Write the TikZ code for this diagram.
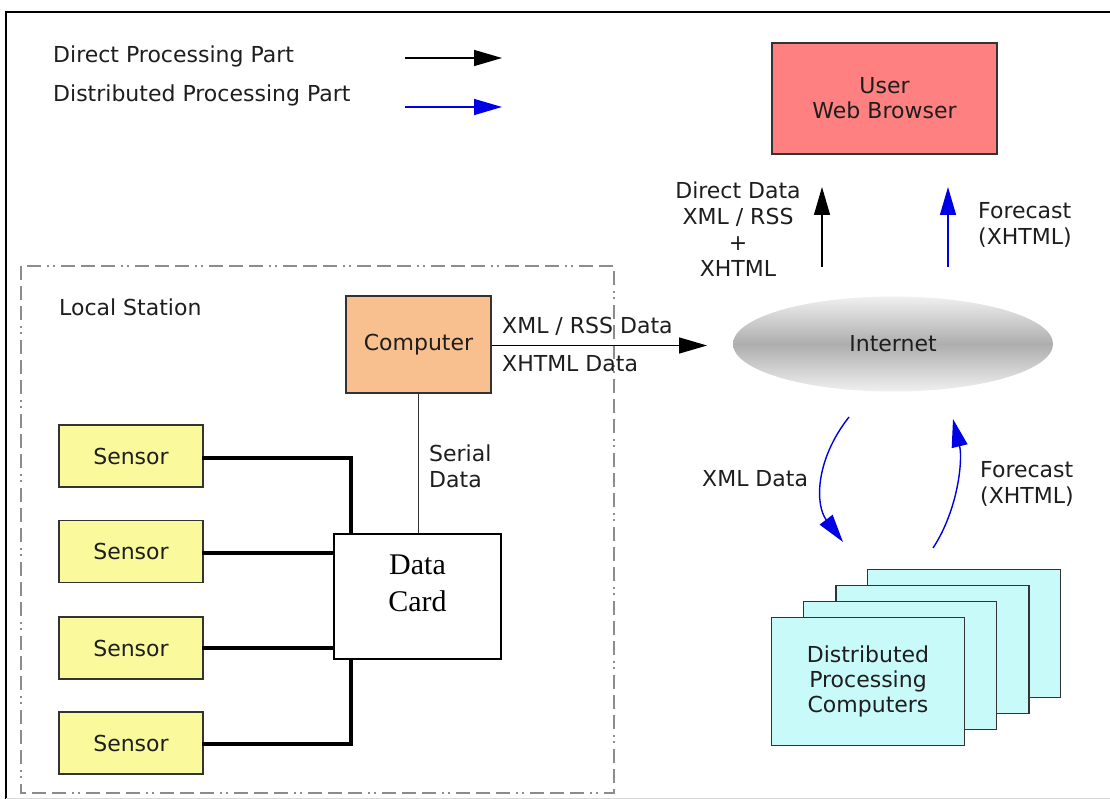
\documentclass[tikz,border=0pt]{standalone}
\usepackage{fontspec}
\setmainfont{DejaVu Sans}
\newfontfamily\cardfont{Liberation Serif}
\usetikzlibrary{arrows.meta,shapes.geometric,calc}
\definecolor{txt}{HTML}{1E1E1E}
\definecolor{usrfill}{HTML}{FF8080}
\definecolor{compfill}{HTML}{F9C08F}
\definecolor{sensfill}{HTML}{FAFA9C}
\definecolor{distfill}{HTML}{C8FAFA}
\definecolor{boxline}{HTML}{333333}
\definecolor{arrblue}{HTML}{0000E6}
\definecolor{dashgray}{HTML}{8C8C8C}
\tikzset{
  lbl/.style={font=\fontsize{22}{26}\selectfont, text=txt, inner sep=0pt},
  box/.style={draw=boxline, line width=1.6pt, inner sep=0pt, font=\fontsize{22}{25}\selectfont, text=txt, align=center},
  sensorbox/.style={box, fill=sensfill, minimum width=144pt, minimum height=62pt},
  distbox/.style={box, fill=distfill, minimum width=193pt, minimum height=128pt},
  arr/.style={line width=1.4pt, -{Triangle[length=28pt,width=16pt]}},
  barr/.style={arr, draw=arrblue},
  wire/.style={line width=3.2pt, line cap=rect},
}
\begin{document}
\begin{tikzpicture}[x=1pt,y=-1pt]
\useasboundingbox (0,0) rectangle (1110,799);
\fill[white] (0,0) rectangle (1110,799);
% outer frame
\draw[line width=2pt] (6,799) -- (6,12) -- (1110,12);
\draw[line width=1pt, black!15] (6,798) -- (1110,798);

% legend
\node[lbl, anchor=base west] (leg1) at (53,63) {Direct Processing Part};
\node[lbl, anchor=base west] (leg2) at (53,102) {Distributed Processing Part};
\coordinate (l1a) at (405,58); \coordinate (l1b) at (502,58);
\coordinate (l2a) at (405,107); \coordinate (l2b) at (502,107);
\draw[arr] (l1a) -- (l1b);
\draw[barr] (l2a) -- (l2b);

% local station frame
\draw[dashgray, line width=1.3pt, dash pattern=on 14pt off 6pt on 14pt off 6pt on 14pt off 6pt on 2pt off 4pt on 2pt off 6pt] (21,266) rectangle (614,793);
\node[lbl, anchor=base west] (ls) at (59,316) {Local Station};

% nodes
\node[box, fill=usrfill, minimum width=225pt, minimum height=111pt] (usr) at (884.5,98.5) {User\\Web Browser};
\node[ellipse, inner sep=0pt, minimum width=320pt, minimum height=95pt,
      top color=black!6, bottom color=black!6, middle color=black!32,
      font=\fontsize{22}{26}\selectfont, text=txt] (inet) at (893,344) {Internet};
\node[box, fill=compfill, minimum width=145pt, minimum height=97pt] (comp) at (418.5,344.5) {Computer};
\node[sensorbox] (s1) at (131,456) {Sensor};
\node[sensorbox] (s2) at (131,551.5) {Sensor};
\node[sensorbox] (s3) at (131,648) {Sensor};
\node[sensorbox] (s4) at (131,743) {Sensor};
\node[draw=black, line width=2pt, fill=white, minimum width=167pt, minimum height=125pt, inner sep=0pt] (card) at (417.5,596.5) {};
\node[font=\cardfont\fontsize{30}{37}\selectfont, align=center, inner sep=0pt] (cardtxt) at ([yshift=13pt]card.center) {Data\\Card};

\node[distbox] (d4) at (964,633.5) {};
\node[distbox] (d3) at (932.5,649.5) {};
\node[distbox] (d2) at (900,665.5) {};
\node[distbox] (d1) at (868,681.5) {Distributed\\Processing\\Computers};

% sensor wiring
\coordinate (cj1) at ($(card.north west)+(18,0)$);
\coordinate (cj4) at ($(card.south west)+(18,0)$);
\draw[wire] ([yshift=-2pt]s1.east) -| (cj1);
\draw[wire] ([yshift=-1.5pt]s2.east) -- ([yshift=-1.5pt]s2.east -| card.west);
\draw[wire] (s3.east) -- (s3.east -| card.west);
\draw[wire] ([yshift=-1pt]s4.east) -| (cj4);

% serial
\draw[line width=1.3pt, boxline] (comp.south) -- (comp.south |- card.north);
\node[lbl, align=left, anchor=west] (serial) at (429,466) {Serial\\Data};

% computer -> internet
\coordinate (ctip) at (707,345.5);
\draw[arr] (comp.east |- ctip) -- (ctip);
\node[lbl, anchor=base west] (xr) at (502,333.5) {XML / RSS Data};
\node[lbl, anchor=base west] (xh) at (502,371.5) {XHTML Data};

% internet -> user
\coordinate (ua) at (822,267); \coordinate (ub) at (822,187);
\coordinate (fa) at (948,267); \coordinate (fb) at (948,187);
\draw[arr] (ua) -- (ub);
\draw[barr] (fa) -- (fb);
\node[lbl, align=center] (dd) at (738,229) {Direct Data\\XML / RSS\\+\\XHTML};
\node[lbl, align=left, anchor=west] (fc1) at (978,225) {Forecast\\(XHTML)};

% internet <-> distributed
\coordinate (xa) at (849,417); \coordinate (xb) at (843,542);
\coordinate (ya) at (933,548); \coordinate (yb) at (953,419);
\draw[barr] (xa) .. controls (815,460) and (815,505) .. (xb);
\draw[barr] (ya) .. controls (958,510) and (963,460) .. (yb);
\node[lbl, anchor=west] (xd) at (702,479) {XML Data};
\node[lbl, align=left, anchor=west] (fc2) at (980,484) {Forecast\\(XHTML)};
\end{tikzpicture}
\end{document}
